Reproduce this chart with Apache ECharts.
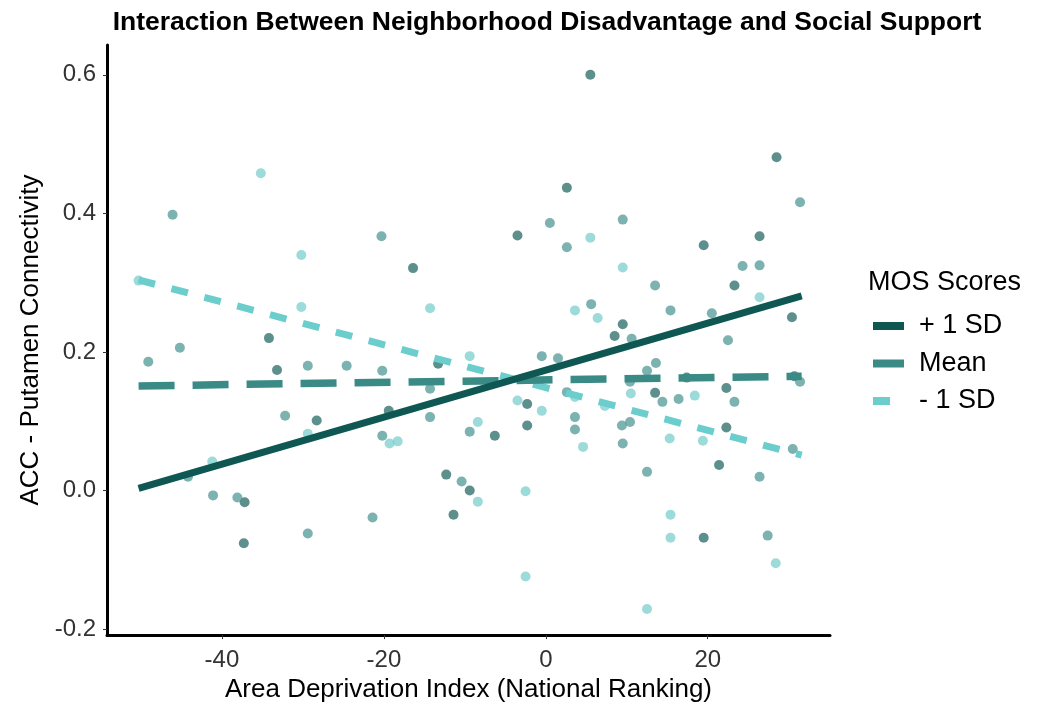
<!DOCTYPE html>
<html>
<head>
<meta charset="utf-8">
<script src="https://cdn.jsdelivr.net/npm/echarts@6/dist/echarts.min.js"></script>
<style>
  html, body { margin: 0; padding: 0; background: #ffffff; }
  #chart { width: 1037px; height: 708px; }
</style>
</head>
<body>
<div id="chart"></div>
<script>
// Observed points, split by social-support level: [ADI ranking, ACC-putamen connectivity]
const highSupportPts = [
  [28.5, 0.481], [2.6, 0.437], [-16.4, 0.321], [26.4, 0.367], [-34.2, 0.220],
  [8.5, 0.223], [-12.3, 0.023], [-11.4, -0.035], [19.5, -0.068], [30.7, 0.165],
  [17.4, 0.163], [-6.3, 0.079], [-2.3, 0.094], [-9.4, 0.000], [-37.2, -0.017],
  [-37.3, -0.076], [30.4, 0.250], [23.3, 0.296], [-3.5, 0.368], [5.5, 0.600],
  [-2.3, 0.125], [13.5, 0.141], [22.3, 0.148], [22.3, 0.091], [21.4, 0.037],
  [-13.3, 0.183], [-33.2, 0.174], [-28.3, 0.101], [-19.4, 0.115], [9.5, 0.240],
  [19.5, 0.354]
];
const meanSupportPts = [
  [-46.1, 0.398], [0.5, 0.386], [2.6, 0.351], [31.4, 0.416], [9.5, 0.391],
  [-49.1, 0.186], [-29.4, 0.180], [-24.6, 0.180], [-32.2, 0.108], [-20.2, 0.173],
  [-0.5, 0.194], [1.5, 0.191], [-14.3, 0.147], [-14.3, 0.106], [3.6, 0.106],
  [3.6, 0.088], [-20.2, 0.079], [5.6, 0.269], [24.3, 0.324], [13.5, 0.296],
  [10.6, 0.219], [15.4, 0.260], [20.5, 0.256], [22.5, 0.217], [13.6, 0.184],
  [31.4, 0.157], [10.4, 0.157], [14.4, 0.128], [16.4, 0.132], [23.3, 0.128],
  [10.4, 0.099], [9.4, 0.094], [9.5, 0.068], [30.5, 0.060], [-44.2, 0.020],
  [-41.1, -0.007], [-38.1, -0.010], [-29.4, -0.062], [-10.4, 0.013], [-21.4, -0.039],
  [12.5, 0.027], [26.4, 0.020], [27.4, -0.065], [2.6, 0.142], [-9.4, 0.085],
  [-20.3, 0.367], [-45.2, 0.206], [12.5, 0.173], [26.4, 0.325]
];
const lowSupportPts = [
  [-35.2, 0.458], [-30.2, 0.340], [5.5, 0.365], [-50.3, 0.303], [-30.2, 0.265],
  [-14.3, 0.263], [3.6, 0.260], [-9.4, 0.194], [-3.5, 0.130], [-0.5, 0.115],
  [-8.4, 0.099], [-19.3, 0.068], [-18.3, 0.071], [4.6, 0.063], [9.5, 0.322],
  [6.4, 0.249], [26.4, 0.279], [10.5, 0.140], [18.4, 0.137], [7.3, 0.122],
  [15.3, 0.075], [-41.2, 0.042], [-29.4, 0.082], [-8.4, -0.016], [-2.5, -0.001],
  [-2.5, -0.124], [15.4, -0.035], [15.4, -0.068], [28.4, -0.105], [12.5, -0.171],
  [3.6, 0.135], [19.4, 0.072]
];

// Simple-slope lines at +1 SD, mean and -1 SD of MOS
const slopeX = [-50.3, 31.6];
const plusSD = [0.003, 0.281];
const meanSD = [0.151, 0.165];
const minusSD = [0.304, 0.051];

const seriesNames = ['+ 1 SD', 'Mean', '- 1 SD'];
const xTicks = [-40, -20, 0, 20];
const yTicks = [-0.2, 0.0, 0.2, 0.4, 0.6];

const colDark = '#0e5753';
const colMid = '#3a8a86';
const colLight = '#6ccdcd';

const pair = (xs, ys) => xs.map((x, i) => [x, ys[i]]);

const chart = echarts.init(document.getElementById('chart'), null, { renderer: 'canvas' });

const font = 'Liberation Sans, Arial, sans-serif';

chart.setOption({
  animation: false,
  backgroundColor: '#ffffff',
  title: [
    {
      text: 'Interaction Between Neighborhood Disadvantage and Social Support',
      left: 542, top: 4, textAlign: 'center',
      textStyle: { fontFamily: font, fontWeight: 'bold', fontSize: 26.5, color: '#000000' }
    },
    {
      text: 'MOS Scores',
      left: 863, top: 264,
      textStyle: { fontFamily: font, fontWeight: 'normal', fontSize: 27, color: '#000000' }
    }
  ],
  legend: {
    orient: 'vertical',
    left: 868, top: 307,
    itemWidth: 31, itemHeight: 8,
    itemGap: 9.5,
    data: [
      { name: seriesNames[0], icon: 'rect', itemStyle: { color: colDark, borderWidth: 0 } },
      { name: seriesNames[1], icon: 'rect', itemStyle: { color: colMid, borderWidth: 0 } },
      { name: seriesNames[2], icon: 'path://M0,0h17v8h-17zM31,8', itemStyle: { color: colLight, borderWidth: 0 } }
    ],
    textStyle: { fontFamily: font, fontSize: 27, color: '#000000', lineHeight: 28, padding: [0, 0, 0, 10] }
  },
  grid: { left: 107, top: 45, right: 207, bottom: 71, containLabel: false },
  xAxis: {
    type: 'value',
    min: -54.2, max: 35.1,
    name: 'Area Deprivation Index (National Ranking)',
    nameLocation: 'middle', nameGap: 40,
    nameTextStyle: { fontFamily: font, fontSize: 26, color: '#000000' },
    axisLine: { show: true, onZero: false, lineStyle: { color: '#000000', width: 3 } },
    axisTick: { show: true, length: 4, customValues: xTicks, lineStyle: { color: '#333333', width: 1 } },
    axisLabel: { customValues: xTicks, fontFamily: font, fontSize: 24, color: '#333333', margin: 13 },
    splitLine: { show: false }
  },
  yAxis: {
    type: 'value',
    min: -0.2086, max: 0.643,
    name: 'ACC - Putamen Connectivity',
    nameLocation: 'middle', nameGap: 61,
    nameTextStyle: { fontFamily: font, fontSize: 26, color: '#000000' },
    axisLine: { show: true, onZero: false, lineStyle: { color: '#000000', width: 3 } },
    axisTick: { show: true, length: 4, customValues: yTicks, lineStyle: { color: '#333333', width: 1 } },
    axisLabel: {
      customValues: yTicks, fontFamily: font, fontSize: 24, color: '#333333', margin: 11,
      formatter: v => v.toFixed(1)
    },
    splitLine: { show: false }
  },
  series: [
    {
      name: 'high-support points', type: 'scatter', data: highSupportPts,
      symbolSize: 10, itemStyle: { color: '#2f6f6b', opacity: 0.78 }, z: 2
    },
    {
      name: 'mean-support points', type: 'scatter', data: meanSupportPts,
      symbolSize: 10, itemStyle: { color: '#4a9490', opacity: 0.72 }, z: 2
    },
    {
      name: 'low-support points', type: 'scatter', data: lowSupportPts,
      symbolSize: 10, itemStyle: { color: '#74cccc', opacity: 0.7 }, z: 2
    },
    {
      name: seriesNames[0], type: 'line', data: pair(slopeX, plusSD),
      showSymbol: false, symbol: 'none', z: 5,
      itemStyle: { color: colDark },
      lineStyle: { color: colDark, width: 7, type: 'solid', cap: 'butt' }
    },
    {
      name: seriesNames[1], type: 'line', data: pair(slopeX, meanSD),
      showSymbol: false, symbol: 'none', z: 4,
      itemStyle: { color: colMid },
      lineStyle: { color: colMid, width: 7.5, type: [36, 18], cap: 'butt' }
    },
    {
      name: seriesNames[2], type: 'line', data: pair(slopeX, minusSD),
      showSymbol: false, symbol: 'none', z: 3,
      itemStyle: { color: colLight },
      lineStyle: { color: colLight, width: 7, type: [17, 17], cap: 'butt' }
    }
  ]
});
</script>
</body>
</html>
